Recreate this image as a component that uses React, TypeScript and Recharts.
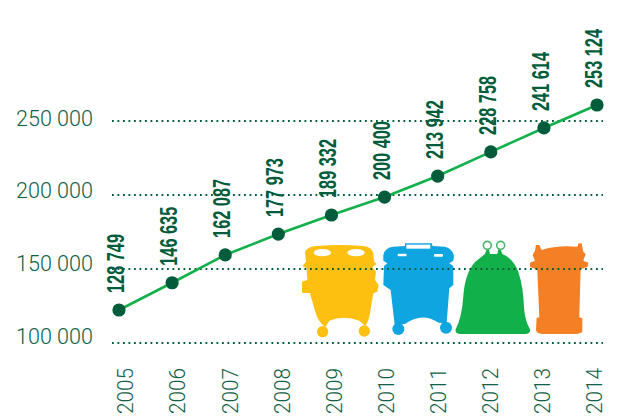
import React from "react";
import { ComposedChart, Line, LabelList, ReferenceLine, XAxis, YAxis } from "recharts";

const years = ["2005", "2006", "2007", "2008", "2009", "2010", "2011", "2012", "2013", "2014"];
// plotted height as read against the axis (the printed figures sit a bit off the scale)
const plotted = [122300, 140700, 159500, 173600, 186500, 198600, 212800, 229100, 245300, 260800];
const printed = ["128 749", "146 635", "162 087", "177 973", "189 332", "200 400", "213 942", "228 758", "241 614", "253 124"];
const yTicks = [100000, 150000, 200000, 250000];

const chartData = years.map((year, i) => ({ year, plotted: plotted[i], printed: printed[i] }));

const DARK = "#005c3b";
const AXIS_TEXT = "#0f6046";
const LINE = "#12b04a";

const fmt = (v: number) => `${v / 1000} 000`;

// year labels run on a slightly tighter step than the points
const YearTick = ({ x, payload }: any) => (
  <text
    transform={`translate(${133.3 + (x - 119) * 0.981},414) rotate(-90)`}
    fontFamily="Roboto"
    fontWeight={300}
    fontSize={22}
    textLength={46}
    lengthAdjust="spacingAndGlyphs"
    fill={AXIS_TEXT}
  >
    {payload.value}
  </text>
);

const ValueTick = ({ y, payload }: any) => (
  <text
    x={16}
    y={344 - (343 - y) * 0.984}
    fontFamily="Roboto"
    fontWeight={300}
    fontSize={22}
    textLength={77}
    lengthAdjust="spacingAndGlyphs"
    fill={AXIS_TEXT}
  >
    {fmt(payload.value)}
  </text>
);

const PrintedLabel = ({ x, y, value }: any) => (
  <text
    transform={`translate(${x + 5},${y - 17}) rotate(-90) scale(0.68,1)`}
    fontFamily="Liberation Sans"
    fontWeight={700}
    fontSize={24}
    fill={DARK}
  >
    {value}
  </text>
);

// the four bins behind the chart
function Bins() {
  return (
    <svg width={617} height={416} style={{ position: "absolute", left: 0, top: 0 }}>
      <g transform="translate(290,230) scale(0.3333)">
        {/* yellow */}
        <path
          fill="#fdc010"
          d="M45 65 Q52 50 80 48 Q150 42 220 48 Q245 50 250 70 L252 95 L260 102 L247 112 L258 125 L255 150 L266 165 L262 185 L250 190 L240 250 Q236 275 226 288 L208 272 Q160 255 118 272 L106 292 Q82 272 76 245 L60 190 L36 188 L36 155 L52 150 L50 115 L38 108 L48 95 Z"
        />
        <circle cx={98} cy={305} r={17} fill="#fdc010" />
        <circle cx={223} cy={303} r={17} fill="#fdc010" />
        <ellipse cx={97} cy={68} rx={26} ry={11} fill="#fff" />
        <ellipse cx={198} cy={68} rx={26} ry={11} fill="#fff" />
        {/* blue */}
        <path
          fill="#0ea5e0"
          d="M280 75 Q285 52 310 50 L345 48 L345 40 L425 40 L428 48 L465 50 Q488 55 492 80 L490 92 L478 100 L490 108 L490 165 L478 175 L470 280 L446 278 Q395 245 345 282 L314 284 L302 180 L280 165 L282 108 L292 100 L280 92 Z"
        />
        <circle cx={325} cy={297} r={18} fill="#0ea5e0" />
        <circle cx={468} cy={293} r={18} fill="#0ea5e0" />
        <rect x={349} y={44} width={72} height={12} fill="#fff" />
        <rect x={323} y={71} width={27} height={8} rx={3} fill="#fff" />
        <rect x={432} y={72} width={27} height={8} rx={3} fill="#fff" />
        {/* green */}
        <path
          fill="#12b04a"
          d="M585 72 L590 58 L597 58 L600 72 L622 72 L625 58 L632 58 L637 72 Q670 85 685 125 Q700 170 702 230 Q704 270 720 298 Q722 312 705 312 L512 312 Q495 312 497 298 Q515 265 520 200 Q524 130 556 95 Z"
        />
        <circle cx={592} cy={46} r={12} fill="none" stroke="#4cb56c" strokeWidth={5} />
        <circle cx={632} cy={46} r={12} fill="none" stroke="#4cb56c" strokeWidth={5} />
        {/* orange */}
        <path
          fill="#f47f24"
          d="M735 62 L738 45 L748 45 L755 60 Q800 45 862 50 L866 40 L875 40 L880 65 L887 72 L880 92 L895 98 L893 110 L872 118 L868 262 L877 265 L877 305 Q870 312 850 312 L760 312 Q740 312 738 300 L740 264 L748 262 L742 120 L720 110 L720 98 L735 92 L728 75 Z"
        />
      </g>
    </svg>
  );
}

export default function App() {
  return (
    <div style={{ position: "absolute", left: 0, top: 0, width: 617, height: 416, background: "#fff", overflow: "hidden" }}>
      <Bins />
      <div style={{ position: "absolute", left: 0, top: 0 }}>
        <ComposedChart
          width={617}
          height={416}
          data={chartData}
          margin={{ top: 47, right: 14, bottom: 0, left: 0 }}
        >
          <XAxis
            dataKey="year"
            scale="point"
            padding={{ left: 7, right: 6 }}
            height={36}
            interval={0}
            axisLine={false}
            tickLine={false}
            tick={<YearTick />}
          />
          <YAxis
            width={112}
            domain={[75000, 300000]}
            ticks={yTicks}
            interval={0}
            axisLine={false}
            tickLine={false}
            tick={<ValueTick />}
          />
          {yTicks.map((t) => (
            <ReferenceLine key={t} y={t} stroke={DARK} strokeWidth={1.8} strokeDasharray="1.8 3.7" />
          ))}
          <Line
            dataKey="plotted"
            stroke={LINE}
            strokeWidth={2.6}
            dot={{ r: 6.6, fill: DARK, stroke: DARK, strokeWidth: 0 }}
            isAnimationActive={false}
          >
            <LabelList dataKey="printed" content={<PrintedLabel />} />
          </Line>
        </ComposedChart>
      </div>
    </div>
  );
}
